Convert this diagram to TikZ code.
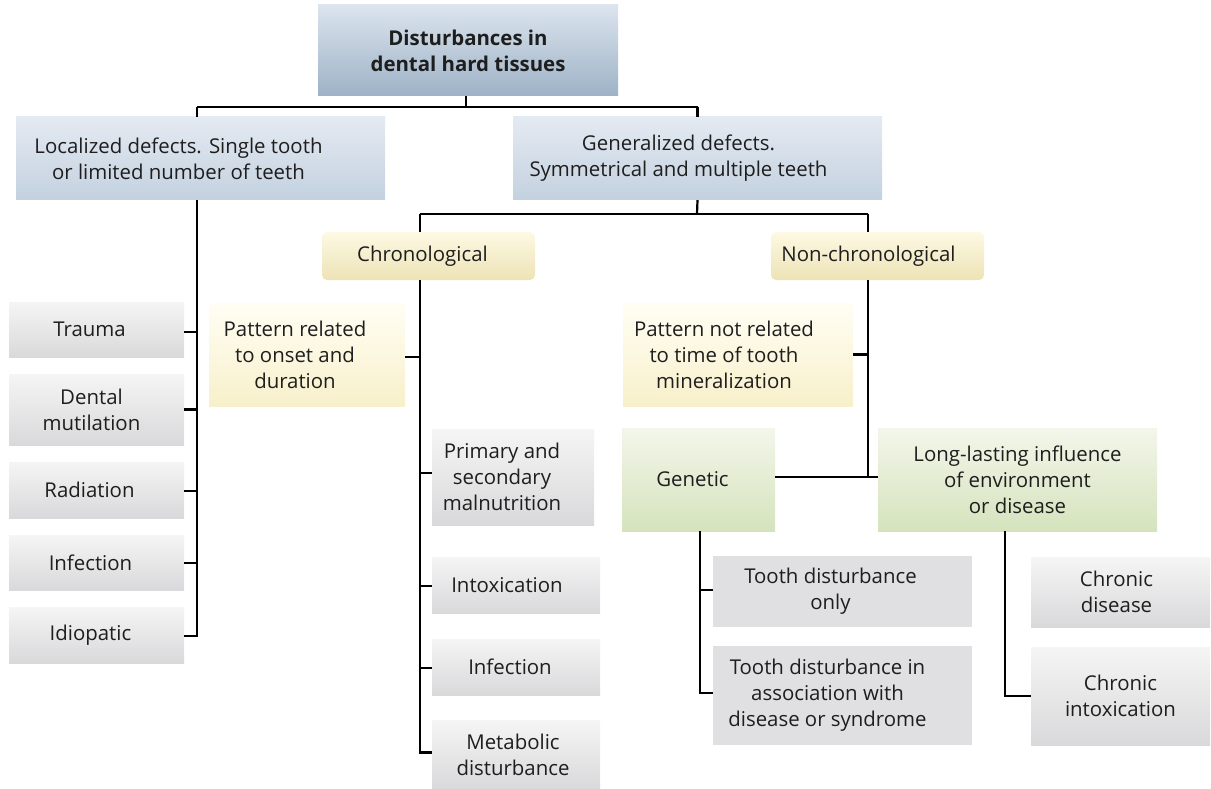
\documentclass[tikz,border=0pt]{standalone}
\usepackage{fontspec}
\setmainfont{Open Sans}
\usetikzlibrary{fit}
\definecolor{txtc}{HTML}{1E1E1E}
\definecolor{blueT}{HTML}{E4EAF2}
\definecolor{blueB}{HTML}{C3D1DF}
\definecolor{blueTT}{HTML}{DCE4EE}
\definecolor{blueTB}{HTML}{9DB2C6}
\definecolor{yelT}{HTML}{FDF9E3}
\definecolor{yelB}{HTML}{EDE3B6}
\definecolor{patT}{HTML}{FFFEF4}
\definecolor{patB}{HTML}{F8F0CB}
\definecolor{grnT}{HTML}{F3F6EA}
\definecolor{grnB}{HTML}{D5E3BD}
\definecolor{gryT}{HTML}{F5F5F5}
\definecolor{gryB}{HTML}{D9D9DB}
\definecolor{gryF}{HTML}{E0E0E2}
\tikzset{
  boxbase/.style={inner sep=0pt, draw=none},
  titlebox/.style={boxbase, top color=blueTT, bottom color=blueTB},
  bluebox/.style={boxbase, top color=blueT, bottom color=blueB},
  chronobox/.style={boxbase, rounded corners=5pt, top color=yelT, bottom color=yelB},
  patbox/.style={boxbase, top color=patT, bottom color=patB},
  greenbox/.style={boxbase, top color=grnT, bottom color=grnB},
  greybox/.style={boxbase, top color=gryT, bottom color=gryB},
  flatbox/.style={boxbase, fill=gryF},
  txt/.style={align=center, text=txtc, font=\fontsize{20.4}{26}\selectfont, inner sep=0pt},
  conn/.style={line width=2.2pt, draw=black},
}
% #1 style, #2 name, #3 x1, #4 y1, #5 x2, #6 y2, #7 text x-shift, #8 text
\newcommand\mybox[8]{%
  \node[#1, fit={(#3,#4) (#5,#6)}] (#2) {};
  \node[txt] (#2t) at ([xshift=#7pt]#2.center) {#8};}
\begin{document}
\begin{tikzpicture}[x=1pt,y=-1pt]
\useasboundingbox (0,0) rectangle (1211,789);
% boxes
\mybox{titlebox}{top}{318}{5}{618}{96}{0}{\textbf{Disturbances in}\\\textbf{dental hard tissues}}
\mybox{bluebox}{loc}{16}{117}{385}{200}{-22}{Localized defects. Single tooth\\or limited number of teeth}
\mybox{bluebox}{gen}{513}{117}{882}{200}{-19}{Generalized defects.\\Symmetrical and multiple teeth}
\mybox{chronobox}{chr}{322}{232}{535}{280}{-6}{Chronological}
\mybox{chronobox}{nchr}{771}{232}{984}{280}{-9}{Non-chronological}
\mybox{greybox}{trauma}{9}{302}{184}{357}{-7}{Trauma}
\mybox{greybox}{dental}{9}{374}{184}{445}{-5}{Dental\\mutilation}
\mybox{greybox}{rad}{9}{462}{184}{518}{-7}{Radiation}
\mybox{greybox}{infl}{9}{535}{184}{590}{-6}{Infection}
\mybox{greybox}{idio}{9}{607}{184}{663}{-6}{Idiopatic}
\mybox{patbox}{pat}{209}{303}{405}{406}{-12}{Pattern related\\to onset and\\duration}
\mybox{greybox}{prim}{432}{429}{594}{525}{-11}{Primary and\\secondary\\malnutrition}
\mybox{greybox}{intox}{432}{557}{600}{613}{-9}{Intoxication}
\mybox{greybox}{infr}{432}{639}{600}{695}{-6}{Infection}
\mybox{greybox}{meta}{432}{720}{600}{789}{-3}{Metabolic\\disturbance}
\mybox{patbox}{patn}{623}{303}{853}{406}{-14}{Pattern not related\\to time of tooth\\mineralization}
\mybox{greenbox}{gene}{622}{428}{775}{531}{-6}{Genetic}
\mybox{greenbox}{long}{878}{428}{1157}{531}{0}{Long-lasting influence\\of environment\\or disease}
\mybox{flatbox}{tonly}{713}{556}{972}{627}{-12}{Tooth disturbance\\only}
\mybox{flatbox}{tassoc}{713}{646}{972}{745}{-15}{Tooth disturbance in\\association with\\disease or syndrome}
\mybox{greybox}{cdis}{1031}{557}{1210}{627}{-4}{Chronic\\disease}
\mybox{greybox}{cint}{1031}{647}{1210}{745}{0}{Chronic\\intoxication}
% junction coordinates
\coordinate (j1) at (466,107);
\coordinate (j2) at (697,214);
\coordinate (sL) at (197,0);
\coordinate (sC) at (420,0);
\coordinate (sN) at (868,0);
\coordinate (sG) at (700,0);
\coordinate (sE) at (1005,0);
% connectors
\draw[conn] (top.south -| j1) -- (j1);
\draw[conn] (j1 -| sL) -- (j1 -| gen.north);
\draw[conn] (j1 -| sL) -- (loc.north -| sL);
\draw[conn] (j1 -| gen.north) -- (gen.north);
\draw[conn] (gen.south) -- (j2);
\draw[conn] (j2 -| sC) -- (j2 -| sN);
\draw[conn] (j2 -| sC) -- (chr.north -| sC);
\draw[conn] (j2 -| sN) -- (nchr.north -| sN);
% localized spine
\draw[conn] (loc.south -| sL) -- ([yshift=-1pt]idio.east -| sL) -- ([yshift=-1pt]idio.east);
\foreach \n/\d in {trauma/-2.5, dental/0, rad/-1, infl/-0.5}
  \draw[conn] ([yshift=\d pt]\n.east) -- ([yshift=\d pt]\n.east -| sL);
% chronological spine
\draw[conn] (chr.south -| sC) -- ([yshift=2pt]meta.west -| sC) -- ([yshift=2pt]meta.west);
\draw[conn] ([yshift=-2.5pt]pat.east) -- ([yshift=-2.5pt]pat.east -| sC);
\foreach \n/\d in {prim/4, intox/-1, infr/-1}
  \draw[conn] ([yshift=\d pt]\n.west) -- ([yshift=\d pt]\n.west -| sC);
% non-chronological spine
\draw[conn] (nchr.south -| sN) -- ([yshift=2.5pt]gene.east -| sN);
\draw[conn] ([yshift=2.5pt]gene.east) -- ([yshift=2.5pt]long.west);
\draw[conn] (patn.east) -- (patn.east -| sN);
% genetic spine
\draw[conn] (gene.south -| sG) -- ([yshift=2.5pt]tassoc.west -| sG) -- ([yshift=2.5pt]tassoc.west);
\draw[conn] ([yshift=1.5pt]tonly.west) -- ([yshift=1.5pt]tonly.west -| sG);
% environment spine
\draw[conn] (long.south -| sE) -- (cint.west -| sE) -- (cint.west);
\end{tikzpicture}
\end{document}
